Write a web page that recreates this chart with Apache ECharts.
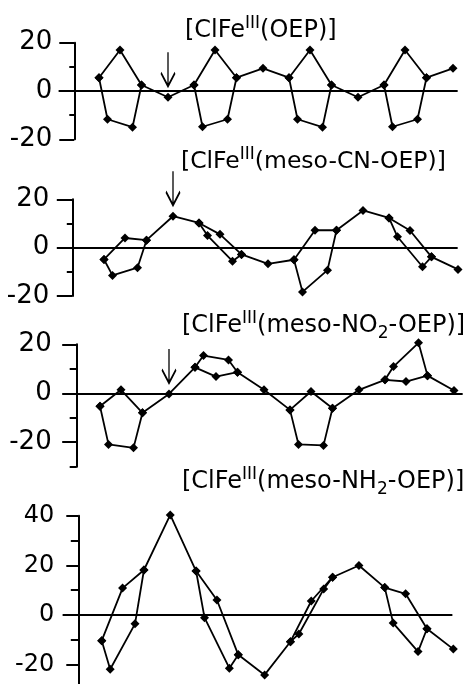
<!DOCTYPE html>
<html>
<head>
<meta charset="utf-8">
<script src="https://cdn.jsdelivr.net/npm/echarts@6/dist/echarts.min.js"></script>
<style>
  html, body { margin: 0; padding: 0; background: #fff; }
  #chart { width: 463px; height: 684px; }
</style>
</head>
<body>
<div id="chart"></div>
<script>
// positions of the 24 core atoms in the linear display: Ca, Cb, N, Cb, Ca, Cmeso (x4)
const atomX = [0, 8.5, 21, 33.5, 42.5, 69, 95, 103.5, 116, 128.5, 137.5, 164,
               190, 198.5, 211, 223.5, 232.5, 259, 285, 293.5, 306, 318.5, 327.5, 354];

// out-of-plane displacements, same atom order
const oep = [5.5, -11.7, 17.0, -15.0, 2.5, -2.6, 2.5, -14.8, 17.0, -11.7, 5.5, 9.4,
             5.5, -11.7, 17.0, -15.0, 2.5, -2.6, 2.5, -14.8, 17.0, -11.7, 5.5, 9.4];
const mesoCN = [-4.9, -11.5, 4.0, -8.3, 3.1, 13.0, 10.2, 5.0, 5.5, -5.6, -2.8, -6.7,
                -5.0, -18.3, 7.2, -9.3, 7.2, 15.4, 12.3, 4.5, 7.1, -7.9, -3.8, -9.0];
const mesoNO2 = [-5.3, -20.9, 1.4, -22.3, -8.0, -0.3, 10.6, 15.4, 6.8, 13.6, 8.6, 1.4,
                 -6.8, -20.9, 0.7, -21.3, -6.1, 1.4, 5.5, 10.9, 4.8, 20.6, 7.2, 1.1];
const mesoNH2 = [-10.4, -21.9, 10.8, -3.6, 18.1, 40.3, 17.7, -1.1, 6.0, -21.5, -16.1, -24.2,
                 -10.8, -7.7, 5.6, 10.4, 15.2, 19.9, 11.0, -3.3, 8.5, -14.8, -5.6, -13.8];

// how the atoms are joined: outer ring path and the Ca-N-Ca links (null = break)
const ringPath = [0, 1, 3, 4, 5, 6, 7, 9, 10, 11, 12, 13, 15, 16, 17, 18, 19, 21, 22, 23];
const nPath = [0, 2, 4, null, 6, 8, 10, null, 12, 14, 16, null, 18, 20, 22];
const arrowAtom = 5;

const titles = [
  '{a|[ClFe}{s|III}{a|(OEP)]}',
  '{a|[ClFe}{s|III}{a|(meso-CN-OEP)]}',
  '{a|[ClFe}{s|III}{a|(meso-NO}{b|2}{a|-OEP)]}',
  '{a|[ClFe}{s|III}{a|(meso-NH}{b|2}{a|-OEP)]}'
];
const yRanges = [[-20, 20], [-20, 20], [-30, 20], [-30, 40]];
const yLabels = [[-20, 0, 20], [-20, 0, 20], [-20, 0, 20], [-20, 0, 20, 40]];
const values = [oep, mesoCN, mesoNO2, mesoNH2];

// layout of each panel, in pixels
const panels = [
  { left: 59.3, top: 42.7, width: 397.7, height: 96.6, xMin: -39.7, xMax: 358, gap: 15, major: 15, minor: 5, margin: 22, font: 26, tLeft: 185, tTop: 15, tSize: 24 },
  { left: 60, top: 199.3, width: 397, height: 96.7, xMin: -44, xMax: 353, gap: 12.3, major: 15.5, minor: 5.5, margin: 23, font: 26, tLeft: 181, tTop: 146, tSize: 23.5 },
  { left: 66, top: 344.3, width: 396, height: 122.4, xMin: -34, xMax: 362, gap: 10.7, major: 14.5, minor: 7, margin: 25, font: 26, tLeft: 182, tTop: 310, tSize: 24 },
  { left: 63.3, top: 515.7, width: 388.4, height: 173.6, xMin: -38.7, xMax: 352.4, gap: 15, major: 12, minor: 7.5, margin: 24, font: 24, tLeft: 182, tTop: 466, tSize: 24 }
];

const FONT = 'DejaVu Sans';
const chart = echarts.init(document.getElementById('chart'), null, { renderer: 'canvas' });

const option = {
  backgroundColor: '#fff',
  animation: false,
  title: [], grid: [], xAxis: [], yAxis: [], series: []
};

panels.forEach(function (p, i) {
  const ys = values[i];
  option.title.push({
    text: titles[i],
    left: p.tLeft, top: p.tTop, padding: 0,
    textStyle: {
      fontFamily: FONT, fontSize: p.tSize, fontWeight: 'normal', color: '#000', lineHeight: 32,
      rich: {
        a: { fontFamily: FONT, fontSize: p.tSize, color: '#000', lineHeight: 32, verticalAlign: 'middle' },
        s: { fontFamily: FONT, fontSize: 17, color: '#000', lineHeight: 32, verticalAlign: 'top' },
        b: { fontFamily: FONT, fontSize: 17, color: '#000', lineHeight: 32, verticalAlign: 'bottom' }
      }
    }
  });
  option.grid.push({ left: p.left, top: p.top, width: p.width, height: p.height, containLabel: false, outerBoundsMode: 'none' });
  option.xAxis.push({
    gridIndex: i, type: 'value', min: p.xMin, max: p.xMax,
    axisLine: { show: true, onZero: true, lineStyle: { color: '#000', width: 1.8 } },
    axisTick: { show: false }, axisLabel: { show: false }, splitLine: { show: false }
  });
  // axis line + minor ticks
  option.yAxis.push({
    gridIndex: i, type: 'value', min: yRanges[i][0], max: yRanges[i][1], interval: 10,
    position: 'left', offset: -p.gap,
    axisLine: { show: true, onZero: false, lineStyle: { color: '#000', width: 2 } },
    axisTick: { show: true, length: p.minor, lineStyle: { color: '#000', width: 2 } },
    axisLabel: { show: false }, splitLine: { show: false }
  });
  // major ticks + labels
  option.yAxis.push({
    gridIndex: i, type: 'value', min: yRanges[i][0], max: yRanges[i][1], interval: 10,
    position: 'left', offset: -p.gap,
    axisLine: { show: false, onZero: false },
    axisTick: { show: true, customValues: yLabels[i], length: p.major, lineStyle: { color: '#000', width: 2 } },
    axisLabel: { show: true, customValues: yLabels[i], margin: p.margin, fontFamily: FONT, fontSize: p.font, color: '#000' },
    splitLine: { show: false }
  });

  const lineBase = {
    type: 'line', xAxisIndex: i, yAxisIndex: 2 * i, clip: false, silent: true,
    symbol: 'diamond', symbolSize: 9, showAllSymbol: true,
    itemStyle: { color: '#000' }, lineStyle: { color: '#000', width: 1.8 }
  };
  option.series.push(Object.assign({}, lineBase, {
    data: ringPath.map(function (k) { return [atomX[k], ys[k]]; }),
    markPoint: {
      silent: true, animation: false,
      symbol: 'path://M7,0L7,33M0,20L7,33L14,20', symbolSize: [14, 34], symbolOffset: [0, -28],
      itemStyle: { color: 'none', borderColor: '#000', borderWidth: 2 },
      label: { show: false },
      data: [{ coord: [atomX[arrowAtom], ys[arrowAtom]] }]
    }
  }));
  option.series.push(Object.assign({}, lineBase, {
    data: nPath.map(function (k) { return k === null ? ['-', '-'] : [atomX[k], ys[k]]; })
  }));
});

chart.setOption(option);
</script>
</body>
</html>
